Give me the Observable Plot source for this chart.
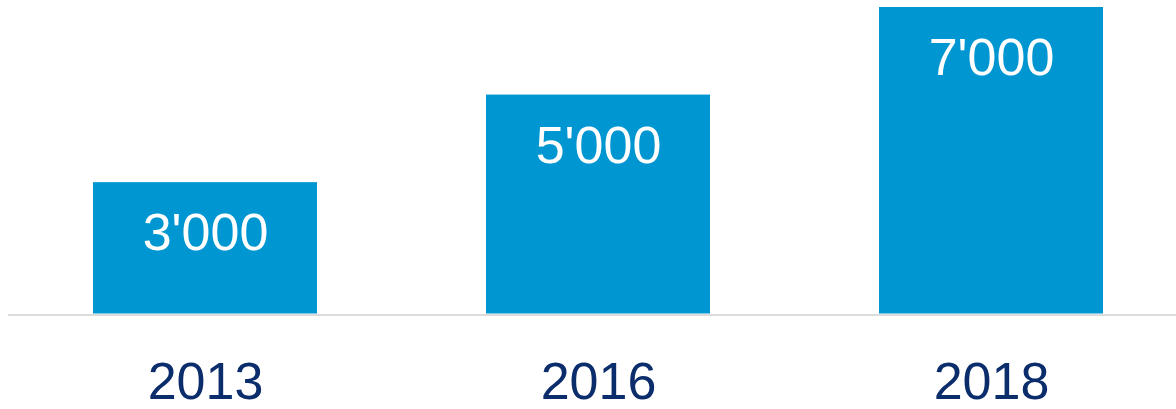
<!DOCTYPE html>
<html>
<head>
<meta charset="utf-8">
<script src="https://cdn.jsdelivr.net/npm/d3@7"></script>
<script src="https://cdn.jsdelivr.net/npm/@observablehq/plot@0.6"></script>
<style>
  html, body { margin: 0; padding: 0; background: #fff; }
  #chart svg { display: block; }
</style>
</head>
<body>
<div id="chart"></div>
<script>
const years = ["2013", "2016", "2018"];
const values = [3000, 5000, 7000];

const data = years.map((y, i) => ({year: y, value: values[i]}));
const fmt = d3.formatLocale({decimal: ".", thousands: "'", grouping: [3], currency: ["", ""]}).format(",d");

const chart = Plot.plot({
  width: 1176,
  height: 409,
  marginTop: 7,
  marginBottom: 95.5,
  marginLeft: 8,
  marginRight: 0,
  style: {fontFamily: "'Liberation Sans', Arial, sans-serif", background: "#fff"},
  x: {domain: years, paddingInner: 0.43, paddingOuter: 0.201, align: 0.538, label: null},
  y: {domain: [0, 7000], axis: null},
  marks: [
    Plot.barY(data, {x: "year", y: "value", fill: "#0096d1"}),
    Plot.ruleY([0], {stroke: "#dcdcdc", strokeWidth: 2, dy: 1}),
    Plot.text(data, {x: "year", y: "value", text: d => fmt(d.value), fill: "#ffffff", fontSize: 52, dy: 51, lineAnchor: "middle"}),
    Plot.axisX({tickSize: 0, tickPadding: 48, fontSize: 52, color: "#0b2d6b", label: null})
  ]
});
document.getElementById("chart").appendChild(chart);
</script>
</body>
</html>
